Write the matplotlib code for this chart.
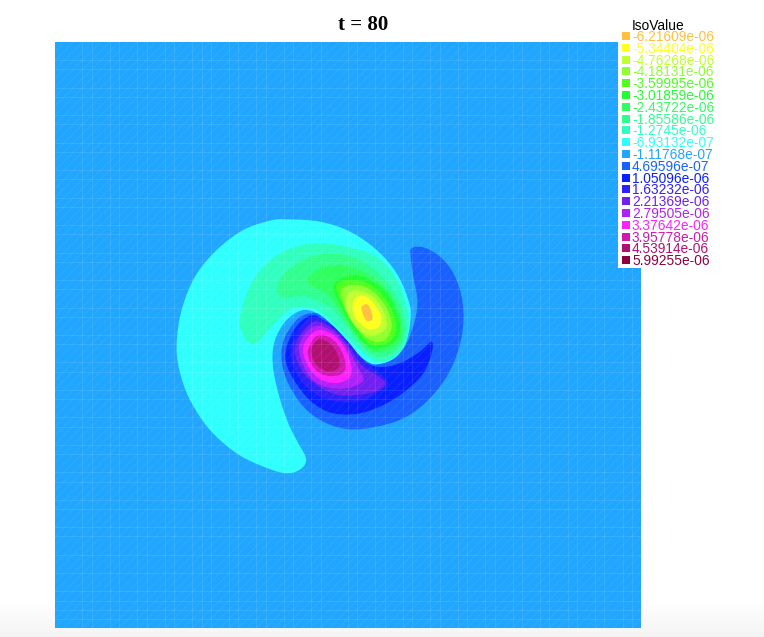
import numpy as np
import matplotlib
matplotlib.use("Agg")
import matplotlib.pyplot as plt
from matplotlib.patches import Polygon, Rectangle

# legend
iso_labels = ["-6.21609e-06", "-5.34404e-06", "-4.76268e-06", "-4.18131e-06", "-3.59995e-06",
              "-3.01859e-06", "-2.43722e-06", "-1.85586e-06", "-1.2745e-06", "-6.93132e-07",
              "-1.11768e-07", "4.69596e-07", "1.05096e-06", "1.63232e-06", "2.21369e-06",
              "2.79505e-06", "3.37642e-06", "3.95778e-06", "4.53914e-06", "5.99255e-06"]
iso_colors = ["#ffc040", "#ffff20", "#c0ff30", "#90ff30", "#50ff20",
              "#20ff30", "#30ff60", "#30ff90", "#30ffc0", "#30ffff",
              "#20a6ff", "#1860ff", "#0820ff", "#3020f8", "#7020f0",
              "#b020f8", "#ff20ff", "#d018b0", "#b01070", "#900040"]

# iso regions, outer to inner, (level index, outline)
cyan = [(350,28),(450,35),(540,65),(620,120),(680,190),(715,270),(722,320),(710,390),(680,440),(640,460),
        (600,460),(550,420),(500,360),(450,315),(400,300),(350,330),(315,390),(308,460),(325,550),(355,640),
        (385,700),(408,745),(395,775),(350,790),(280,770),(200,730),(120,660),(60,570),(28,480),(20,400),
        (35,300),(75,200),(140,120),(220,60),(300,32)]
teal = [(210,320),(250,210),(330,130),(430,100),(530,110),(620,140),(680,210),(712,300),(715,360),(700,415),
        (655,450),(610,450),(560,410),(510,360),(450,305),(400,290),(350,305),(300,355),(265,395),(240,400),(220,375)]
green1 = [(320,235),(345,190),(410,145),(490,130),(570,150),(640,205),(690,280),(705,350),(695,400),(660,435),
          (620,440),(575,410),(530,350),(490,300),(450,275),(400,258),(340,262)]
green2 = [(412,210),(450,175),(510,165),(580,185),(640,230),(680,290),(698,360),(680,405),(640,425),(600,420),
          (560,380),(520,320),(475,255),(430,230)]
green3 = [(490,225),(550,195),(610,215),(655,255),(685,320),(690,365),(670,400),(630,415),(595,410),(555,365),(520,305)]
green4 = [(500,225),(555,210),(610,230),(655,280),(678,345),(665,390),(630,405),(595,400),(560,355),(525,300)]
lime1 = [(515,240),(560,225),(610,245),(650,295),(665,350),(645,390),(605,392),(565,360),(530,305)]
lime2 = [(535,250),(570,242),(615,265),(645,315),(648,355),(615,375),(580,370),(550,340),(530,295)]
yellow = [(555,265),(585,258),(615,285),(635,325),(625,352),(595,358),(565,335),(548,300)]
orange = [(575,290),(595,285),(608,325),(590,332),(578,310)]

blue1 = [(725,115),(760,112),(810,140),(850,190),(875,260),(880,340),(865,420),(830,500),(770,575),(700,625),
         (620,650),(540,658),(470,640),(410,600),(365,540),(340,480),(335,420),(350,370),(385,325),(420,310),
         (450,315),(500,360),(550,420),(600,460),(640,460),(680,440),(710,400),(735,330),(742,270),(730,200),(722,140)]
blue2 = [(785,395),(785,430),(760,490),(710,540),(650,580),(570,610),(490,610),(430,580),(385,530),(352,470),
         (348,420),(372,360),(410,322),(445,320),(500,370),(550,430),(600,465),(650,470),(700,455),(750,425)]
blue3 = [(363,410),(415,328),(475,338),(530,390),(580,450),(645,505),(648,530),(575,572),(485,572),(420,540),(377,485)]
violet = [(375,410),(425,338),(480,350),(530,400),(575,465),(640,510),(635,535),(585,552),(505,555),(440,525),(395,480)]
purple = [(387,410),(430,350),(485,362),(530,410),(565,475),(580,512),(530,535),(465,530),(415,495)]
magenta = [(400,410),(440,362),(490,375),(530,425),(545,490),(510,518),(455,510),(415,470)]
pink = [(415,415),(445,375),(490,390),(520,435),(525,480),(495,498),(450,490),(420,455)]
core = [(427,410),(450,388),(485,405),(505,440),(507,470),(480,485),(445,470),(427,440)]

regions = [(9, cyan), (8, teal), (7, green1), (6, green2), (5, green3), (4, green4), (3, lime1),
           (2, lime2), (1, yellow), (0, orange),
           (11, blue1), (12, blue2), (13, blue3), (14, violet), (15, purple), (16, magenta),
           (17, pink), (18, core)]

# mesh lines that show up, as cell numbers
mesh_x = [3,4,6,7,9,10,12,13,15,16,17,19,20,22,23,25,26,28,29,32,33,35,36,38,39,41,42,44,45,47,48,50,51,53,54,56,57,59,60,62,63]
mesh_y = [2,3,5,6,8,9,11,12,14,15,17,18,20,21,23,24,26,27,29,30,32,33,35,36,38,39,41,42,44,45,47,48,50,51,53,54,56,58,60,61,62,63]
n_cells = 64


def smooth(pts, n=6):
    # closed catmull-rom, goes through the read points
    p = np.array(pts, dtype=float)
    p0, p1, p2, p3 = np.roll(p, 1, axis=0), p, np.roll(p, -1, axis=0), np.roll(p, -2, axis=0)
    out = []
    for t in np.arange(n)/n:
        out.append(0.5*(2*p1 + (p2-p0)*t + (2*p0-5*p1+4*p2-p3)*t**2 + (3*p1-p0-3*p2+p3)*t**3))
    return np.stack(out, axis=1).reshape(-1, 2)


fig = plt.figure(figsize=(7.64, 6.37), dpi=100)

# faint grey at the bottom of the page
bg = fig.add_axes([0, 0, 1, 1], zorder=0)
bg.imshow(np.linspace(1.0, 0.955, 40)[:, None], extent=(0, 764, 637, 597), cmap="gray", vmin=0, vmax=1, aspect="auto")
bg.set_xlim(0, 764)
bg.set_ylim(637, 0)
bg.axis("off")

# limits are in the same units as the outlines
ax = fig.add_axes([55/764, 1-628/637, 586/764, 586/637], zorder=1)
ax.set_facecolor(iso_colors[10])
ax.set_xticks([])
ax.set_yticks([])
for s in ax.spines.values():
    s.set_visible(False)

for idx, pts in regions:
    ax.add_patch(Polygon(smooth(pts), closed=True, fc=iso_colors[idx], ec="none", zorder=2))

# triangulation seen through the fill
cell = 1758/n_cells
for i in mesh_x:
    ax.axvline(-345 + i*cell, color="white", lw=0.7, alpha=0.1, zorder=3)
for j in mesh_y:
    ax.axhline(-504 + j*cell, color="white", lw=0.7, alpha=0.1, zorder=3)
for k in range(-n_cells, n_cells):
    ax.plot([-345 + k*cell, -345 + (k+n_cells)*cell], [1254, -504], color="white", lw=0.6, alpha=0.07, zorder=3)
ax.set_xlim(-345, 1413)
ax.set_ylim(1254, -504)

# title and legend on top, in page pixels
top = fig.add_axes([0, 0, 1, 1], zorder=2)
top.set_xlim(0, 764)
top.set_ylim(637, 0)
top.axis("off")
top.text(363, 24.5, "t = 80", family="Liberation Serif", weight="bold", fontsize=15, ha="center", va="center")
top.add_patch(Rectangle((618, 16), 28, 252, fc="white", ec="none"))
top.text(632, 26, "IsoValue", family="Liberation Sans", fontsize=9.9, ha="left", va="center", color="black")
for i, (lab, col) in enumerate(zip(iso_labels, iso_colors)):
    y = 36 + i*11.8
    top.add_patch(Rectangle((622, y-4), 8, 8, fc=col, ec="none"))
    top.text(632, y + 1, lab, family="Liberation Sans", fontsize=9.9, ha="left", va="center", color=col)

fig.savefig("out.png", dpi=100)
